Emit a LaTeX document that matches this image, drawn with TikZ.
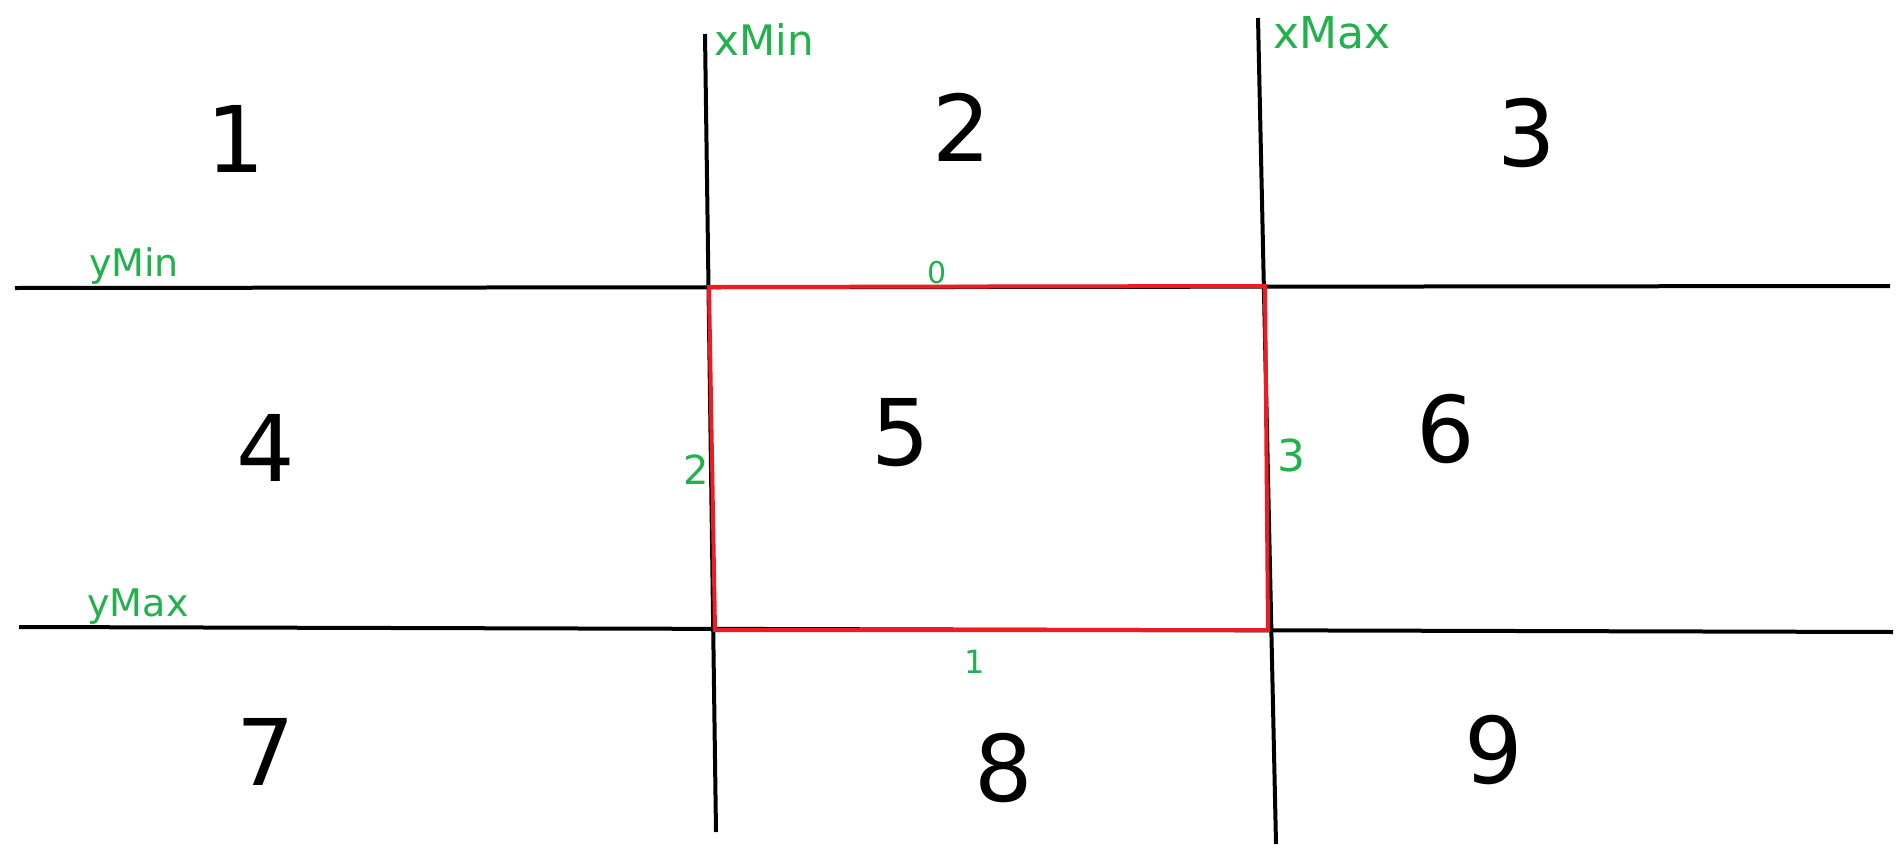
\documentclass[tikz,border=0pt]{standalone}
\usepackage{fontspec}
\setmainfont{DejaVu Sans}
\definecolor{pgreen}{HTML}{22B14C}
\definecolor{pred}{HTML}{ED1C24}
\begin{document}
\begin{tikzpicture}[x=1pt,y=-1pt,
  grid/.style={line width=4pt,black},
  box/.style={line width=4pt,pred},
  region/.style={font=\fontsize{92}{92}\selectfont,inner sep=0pt},
  glabel/.style={text=pgreen,inner sep=0pt},
]
\useasboundingbox[fill=white] (0,0) rectangle (1897,851);
% grid line ends
\coordinate (v1t) at (705,34);
\coordinate (v1b) at (716,832);
\coordinate (v2t) at (1258,18);
\coordinate (v2b) at (1276,844);
\coordinate (h1l) at (15,288);
\coordinate (h1r) at (1890,286);
\coordinate (h2l) at (19,627);
\coordinate (h2r) at (1893,632);
\draw[grid] (v1t) -- (v1b);
\draw[grid] (v2t) -- (v2b);
\draw[grid] (h1l) -- (h1r);
\draw[grid] (h2l) -- (h2r);
% red window
\coordinate (tl) at (709,287);
\coordinate (tr) at (1265,286);
\coordinate (br) at (1268,630);
\coordinate (bl) at (715,630);
\draw[box] (tl) -- (tr) -- (br) -- (bl) -- cycle;
% region numbers
\node[region] (r1) at (236,139) {1};
\node[region] (r2) at (962,127) {2};
\node[region] (r3) at (1527,133) {3};
\node[region] (r4) at (266,448) {4};
\node[region] (r5) at (901,433) {5};
\node[region] (r6) at (1446,429) {6};
\node[region] (r7) at (266,752) {7};
\node[region] (r8) at (1004,768) {8};
\node[region] (r9) at (1494,750) {9};
% green labels
\node[glabel,font=\fontsize{42}{42}\selectfont] (lxmin) at (764,40) {xMin};
\node[glabel,font=\fontsize{44}{44}\selectfont] (lxmax) at (1332,33) {xMax};
\node[glabel,font=\fontsize{38}{38}\selectfont] (lymin) at (134,266) {yMin};
\node[glabel,font=\fontsize{38}{38}\selectfont] (lymax) at (138,607) {yMax};
\node[glabel,font=\fontsize{30}{30}\selectfont] (e0) at (937,273) {0};
\node[glabel,font=\fontsize{40}{40}\selectfont] (e2) at (696,470) {2};
\node[glabel,font=\fontsize{44}{44}\selectfont] (e3) at (1291,455) {3};
\node[glabel,font=\fontsize{32}{32}\selectfont] (e1) at (975,662) {1};
\end{tikzpicture}
\end{document}
